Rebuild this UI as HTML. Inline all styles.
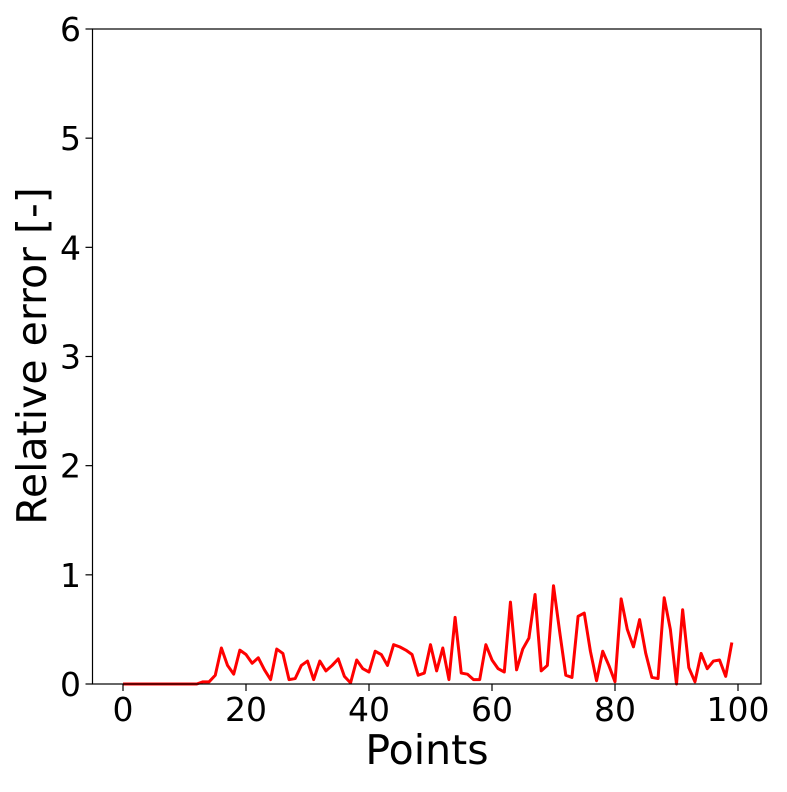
<!DOCTYPE html>
<html><head><meta charset="utf-8"><style>
body{margin:0;background:#fff}
svg text{font-family:"DejaVu Sans","Liberation Sans",sans-serif;fill:#000}
</style></head><body>
<svg id="chart" width="787" height="787" viewBox="0 0 787 787" xmlns="http://www.w3.org/2000/svg">
<rect x="0" y="0" width="787" height="787" fill="#fff"/>
<g id="series"></g>
<rect x="92.5" y="29" width="668.5" height="655" fill="none" stroke="#000" stroke-width="1.2"/>
<g id="xticks"></g>
<g id="yticks"></g>
<text x="427" y="764" font-size="41" text-anchor="middle">Points</text>
<text transform="translate(46,356) rotate(-90)" font-size="41" text-anchor="middle">Relative error [-]</text>
</svg>
<script>
const xTickValues=[0,20,40,60,80,100];
const yTickValues=[0,1,2,3,4,5,6];
const errorValues=[0,0,0,0,0,0,0,0,0,0,0,0,0,0.02,0.02,0.08,0.33,0.17,0.09,0.31,0.27,0.19,0.24,0.13,0.04,0.32,0.28,0.04,0.05,0.17,0.21,0.04,0.21,0.12,0.17,0.23,0.07,0.01,0.22,0.14,0.11,0.30,0.27,0.17,0.36,0.34,0.31,0.27,0.08,0.10,0.36,0.12,0.33,0.04,0.61,0.10,0.09,0.04,0.04,0.36,0.22,0.14,0.11,0.75,0.13,0.32,0.42,0.82,0.12,0.17,0.90,0.48,0.08,0.06,0.62,0.65,0.30,0.03,0.30,0.17,0.02,0.78,0.50,0.34,0.59,0.28,0.06,0.05,0.79,0.50,0.00,0.68,0.15,0.02,0.28,0.14,0.21,0.22,0.07,0.38];
const NS='http://www.w3.org/2000/svg';
const xs=v=>123+v*6.15;
const ys=v=>684-v*(655/6);
const xt=document.getElementById('xticks'),yt=document.getElementById('yticks'),sr=document.getElementById('series');
function mk(tag,attrs,parent,txt){const e=document.createElementNS(NS,tag);for(const k in attrs)e.setAttribute(k,attrs[k]);if(txt!==undefined)e.textContent=txt;parent.appendChild(e);return e;}
xTickValues.forEach(v=>{
  const l=mk('line',{x1:xs(v),x2:xs(v),y1:684,y2:691,stroke:'#000','stroke-width':1.2},xt);
  
  
  const t=mk('text',{x:xs(v),y:721,'font-size':33,'text-anchor':'middle'},xt,String(v));
  
  
});
yTickValues.forEach(v=>{
  const l=mk('line',{x1:85.5,x2:92.5,y1:ys(v),y2:ys(v),stroke:'#000','stroke-width':1.2},yt);
  
  
  const t=mk('text',{x:81,y:ys(v)+12,'font-size':33,'text-anchor':'end'},yt,String(v));
  
  
});
const pts=errorValues.map((v,i)=>xs(i).toFixed(2)+','+ys(v).toFixed(2)).join(' ');
const pl=mk('polyline',{points:pts,fill:'none',stroke:'#ff0000','stroke-width':3,'stroke-linejoin':'round'},sr);


</script>
</body></html>
